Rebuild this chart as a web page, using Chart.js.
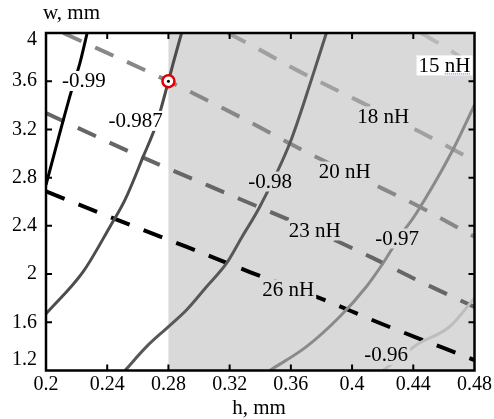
<!DOCTYPE html>
<html>
<head>
<meta charset="utf-8">
<script src="https://cdn.jsdelivr.net/npm/chart.js@4.4.1/dist/chart.umd.min.js"></script>
<style>
  body { margin: 0; background: #fff; }
  canvas { display: block; }
</style>
</head>
<body>
<canvas id="myChart" width="494" height="419"></canvas>
<script>
// axis ticks
const H_TICKS = [0.2, 0.24, 0.28, 0.32, 0.36, 0.4, 0.44, 0.48];
const W_TICKS = [1.2, 1.6, 2, 2.4, 2.8, 3.2, 3.6, 4];
const SHADE_H = [0.28, 0.48];

// solid contours, [h, w]
const k0990 = [[0.2, 2.74], [0.2085, 3.146], [0.2168, 3.528], [0.2222, 3.752], [0.2269, 4.0]];
const k0987 = [[0.2, 1.67], [0.2243, 2.02], [0.2418, 2.393], [0.2516, 2.615], [0.2635, 2.974], [0.2723, 3.251], [0.28, 3.6], [0.2831, 3.749], [0.2886, 4.0]];
const k0980 = [[0.2516, 1.2], [0.2657, 1.398], [0.2788, 1.55], [0.2918, 1.702], [0.3049, 1.895], [0.318, 2.09], [0.3277, 2.30], [0.3397, 2.559], [0.3593, 3.085], [0.3734, 3.611], [0.3832, 4.0]];
const k0970 = [[0.3462, 1.2], [0.3702, 1.398], [0.3919, 1.646], [0.4093, 1.895], [0.4202, 2.09], [0.4311, 2.31], [0.442, 2.505], [0.4659, 3.031], [0.48, 3.403]];
const k0960 = [[0.4202, 1.2], [0.4311, 1.304], [0.442, 1.412], [0.4637, 1.563], [0.48, 1.802]];

// inductance lines (dashed), [h, w]
const nH15 = [[0.4452, 4.0], [0.4657, 3.843], [0.48, 3.718]];
const nH18 = [[0.3188, 4.0], [0.3397, 3.86], [0.3636, 3.694], [0.4028, 3.445], [0.442, 3.196], [0.48, 2.94]];
const nH20 = [[0.2113, 4.0], [0.28, 3.6], [0.3266, 3.305], [0.3723, 2.998], [0.4134, 2.749], [0.4441, 2.558], [0.48, 2.309]];
const nH23 = [[0.2, 3.336], [0.257, 3.002], [0.3266, 2.623], [0.3756, 2.358], [0.4134, 2.134], [0.4396, 1.968], [0.48, 1.727]];
const nH26 = [[0.2, 2.686], [0.2483, 2.441], [0.292, 2.225], [0.3332, 2.017], [0.3789, 1.801], [0.418, 1.594], [0.48, 1.287]];

// chosen point
const POINT = [0.28, 3.6];

// inline labels and where they sit (h, w)
const LABEL_TEXT = ['-0.99', '-0.987', '-0.98', '-0.97', '-0.96', '15 nH', '18 nH', '20 nH', '23 nH', '26 nH'];
const LABEL_H = [0.2248, 0.2586, 0.3465, 0.4294, 0.4223, 0.4604, 0.4203, 0.3952, 0.3756, 0.3583];
const LABEL_W = [3.602, 3.271, 2.768, 2.295, 1.329, 3.731, 3.308, 2.851, 2.362, 1.872];

const SHADE = '#d9d9d9';
const FONT = '"Liberation Serif", "Times New Roman", serif';

function pts(arr) {
  return arr.map(p => ({ x: p[0], y: p[1] }));
}

function solid(arr, color) {
  return {
    data: pts(arr), showLine: true, borderColor: color, borderWidth: 3,
    pointRadius: 0, cubicInterpolationMode: 'monotone', clip: 0
  };
}

function dashed(arr, color) {
  return {
    data: pts(arr), showLine: true, borderColor: color, borderWidth: 4,
    borderDash: [20, 15], borderCapStyle: 'butt',
    pointRadius: 0, cubicInterpolationMode: 'monotone', clip: 0
  };
}

const paperPlugin = {
  id: 'paper',
  beforeDatasetsDraw(chart) {
    const { ctx, chartArea: a, scales: { x } } = chart;
    const x0 = x.getPixelForValue(SHADE_H[0]);
    const x1 = x.getPixelForValue(SHADE_H[1]);
    ctx.save();
    ctx.fillStyle = SHADE;
    ctx.fillRect(x0, a.top, x1 - x0, a.bottom - a.top);
    ctx.restore();
  },
  afterDatasetsDraw(chart) {
    const { ctx, chartArea: a, scales: { x, y } } = chart;
    const shadeStart = x.getPixelForValue(SHADE_H[0]);
    ctx.save();

    // contour labels with a box that breaks the line
    ctx.font = '21px ' + FONT;
    ctx.textAlign = 'center';
    ctx.textBaseline = 'middle';
    for (let i = 0; i < LABEL_TEXT.length; i++) {
      const t = LABEL_TEXT[i];
      const px = x.getPixelForValue(LABEL_H[i]);
      const py = y.getPixelForValue(LABEL_W[i]);
      const w = ctx.measureText(t).width;
      ctx.fillStyle = (px < shadeStart || t === '15 nH') ? '#fff' : SHADE;
      ctx.fillRect(px - w / 2 - 2, py - 10, w + 4, 20);
      ctx.fillStyle = '#000';
      ctx.fillText(t, px, py + 1);
      if (t === '15 nH') {
        // the dotted spell-check underline under "nH"
        const lead = ctx.measureText('15 ').width;
        ctx.strokeStyle = '#5a5aff';
        ctx.lineWidth = 1;
        ctx.setLineDash([1, 1]);
        ctx.beginPath();
        ctx.moveTo(px - w / 2 + lead, py + 8.5);
        ctx.lineTo(px + w / 2, py + 8.5);
        ctx.stroke();
        ctx.setLineDash([]);
      }
    }

    // frame
    ctx.strokeStyle = '#000';
    ctx.lineWidth = 2.5;
    ctx.strokeRect(a.left, a.top, a.right - a.left, a.bottom - a.top);

    // inward ticks
    ctx.lineWidth = 2;
    ctx.beginPath();
    H_TICKS.slice(1, -1).forEach(v => {
      const px = x.getPixelForValue(v);
      ctx.moveTo(px, a.bottom); ctx.lineTo(px, a.bottom - 6);
      ctx.moveTo(px, a.top); ctx.lineTo(px, a.top + 6);
    });
    W_TICKS.slice(1, -1).forEach(v => {
      const py = y.getPixelForValue(v);
      ctx.moveTo(a.left, py); ctx.lineTo(a.left + 6, py);
      ctx.moveTo(a.right, py); ctx.lineTo(a.right - 6, py);
    });
    ctx.stroke();

    // y tick labels (end ones pulled inward like the original)
    ctx.font = '20px ' + FONT;
    ctx.fillStyle = '#000';
    ctx.textAlign = 'right';
    ctx.textBaseline = 'middle';
    W_TICKS.forEach((v, i) => {
      let py = y.getPixelForValue(v);
      if (i === 0) py -= 11;
      if (i === W_TICKS.length - 1) py += 7;
      ctx.fillText(String(v), a.left - 9, py);
    });

    // axis titles
    ctx.font = '21px ' + FONT;
    ctx.textBaseline = 'alphabetic';
    ctx.textAlign = 'left';
    ctx.fillText('w, mm', 43, 18.5);
    ctx.textAlign = 'center';
    ctx.fillText('h, mm', 259, 414);
    ctx.restore();
  }
};

const ctx = document.getElementById('myChart').getContext('2d');

const datasets = [
  {
    data: pts([POINT]), pointRadius: 1.5, pointBackgroundColor: '#000',
    pointBorderWidth: 0, order: -2, clip: false
  },
  {
    data: pts([POINT]), pointRadius: 6, pointBackgroundColor: '#fff',
    pointBorderColor: '#e00000', pointBorderWidth: 2.5, order: -1, clip: false
  },
  solid(k0990, '#000000'),
  solid(k0987, '#4d4d4d'),
  solid(k0980, '#585858'),
  solid(k0970, '#8a8a8a'),
  solid(k0960, '#bdbdbd'),
  dashed(nH15, '#b8b8b8'),
  dashed(nH18, '#a0a0a0'),
  dashed(nH20, '#888888'),
  dashed(nH23, '#666666'),
  dashed(nH26, '#000000')
];

const config = {
  type: 'scatter',
  data: { datasets: datasets },
  options: {
    responsive: false,
    animation: false,
    devicePixelRatio: 1,
    layout: { padding: { left: 0, right: 19, top: 33, bottom: 0 } },
    plugins: {
      legend: { display: false },
      tooltip: { enabled: false }
    },
    scales: {
      x: {
        type: 'linear',
        min: H_TICKS[0],
        max: H_TICKS[H_TICKS.length - 1],
        afterBuildTicks: scale => { scale.ticks = H_TICKS.map(v => ({ value: v })); },
        afterFit: scale => { scale.height = 48.5; },
        grid: { display: false, drawTicks: false },
        border: { display: false },
        ticks: {
          color: '#000',
          padding: 2,
          maxRotation: 0,
          autoSkip: false,
          font: { family: FONT, size: 20 },
          callback: v => String(parseFloat(v.toFixed(2)))
        }
      },
      y: {
        type: 'linear',
        min: W_TICKS[0],
        max: W_TICKS[W_TICKS.length - 1],
        afterBuildTicks: scale => { scale.ticks = W_TICKS.map(v => ({ value: v })); },
        afterFit: scale => { scale.width = 46; },
        grid: { display: false, drawTicks: false },
        border: { display: false },
        ticks: { display: false }
      }
    }
  },
  plugins: [paperPlugin]
};

const myChart = new Chart(ctx, config);
</script>
</body>
</html>
